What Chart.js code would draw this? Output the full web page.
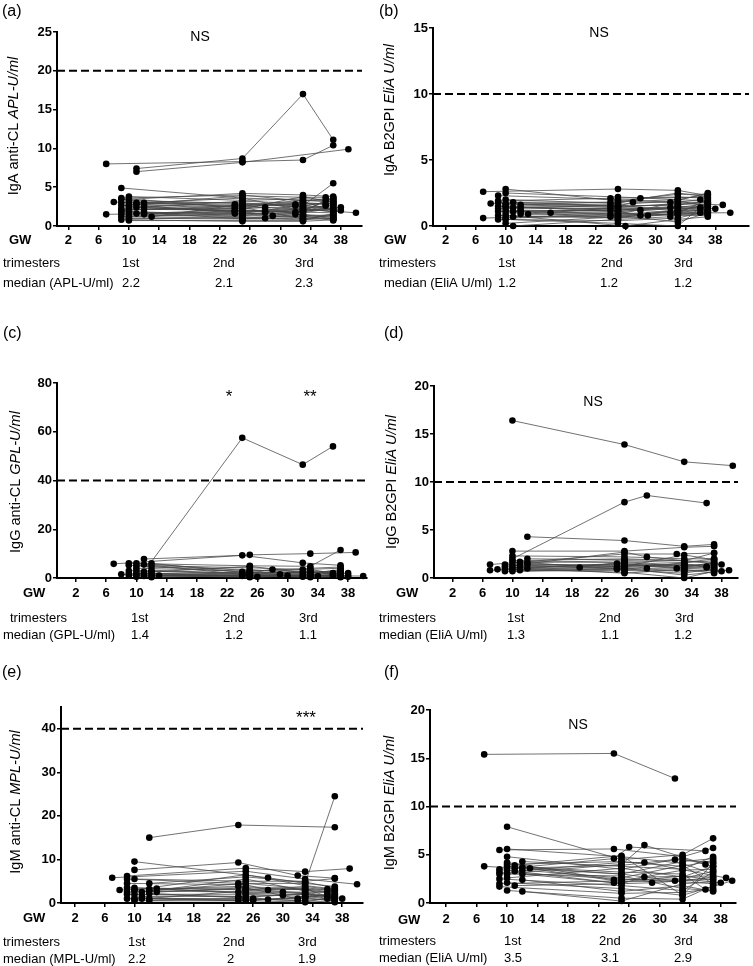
<!DOCTYPE html>
<html>
<head>
<meta charset="utf-8">
<script src="https://cdn.jsdelivr.net/npm/chart.js@4/dist/chart.umd.min.js"></script>
<style>
  body { margin: 0; background: #fff; }
  #page { position: relative; width: 753px; height: 966px; overflow: hidden; }
  #page canvas { position: absolute; }
</style>
</head>
<body>
<div id="page">
  <canvas id="panelA" width="376" height="320" style="left:0;top:0"></canvas>
  <canvas id="panelB" width="377" height="320" style="left:376px;top:0"></canvas>
  <canvas id="panelC" width="376" height="326" style="left:0;top:320px"></canvas>
  <canvas id="panelD" width="377" height="326" style="left:376px;top:320px"></canvas>
  <canvas id="panelE" width="376" height="326" style="left:0;top:640px"></canvas>
  <canvas id="panelF" width="377" height="326" style="left:376px;top:640px"></canvas>
</div>
<script>
// gestational weeks on the x axis, and the trimester columns
var gwTicks = [2, 6, 10, 14, 18, 22, 26, 30, 34, 38];
var trimesters = ["1st", "2nd", "3rd"];

// each track is one patient: [week, value, week, value, ...]

// (a) IgA anti-CL, APL-U/ml
var igaClTracks = [
  [7, 8.0, 25, 8.3, 33, 8.5, 37, 10.4],
  [11, 7.4, 25, 8.7, 33, 17.0, 37, 11.1],
  [11, 7.0, 25, 8.2, 39, 9.9],
  [9, 4.9, 25, 3.6, 37, 3.2],
  [7, 1.5, 24, 1.8, 33, 2.2, 40, 1.7],
  [8, 3.1, 25, 2.5, 33, 3.0, 37, 2.8],
  [9, 3.4, 25, 4.2, 33, 4.0, 37, 3.8],
  [9, 3.0, 24, 2.8, 33, 2.6, 37, 5.5],
  [9, 2.6, 25, 3.9, 33, 3.7, 36, 3.7],
  [9, 2.2, 25, 2.0, 33, 1.9, 37, 2.2],
  [9, 1.8, 24, 1.6, 32, 1.5, 37, 1.3],
  [9, 1.2, 25, 1.0, 33, 0.8, 37, 1.0],
  [9, 0.8, 25, 0.6, 33, 0.6, 37, 0.8],
  [10, 3.8, 25, 3.3, 33, 3.5, 37, 3.4],
  [10, 3.5, 24, 2.4, 32, 2.8, 36, 2.8],
  [10, 3.1, 25, 3.0, 33, 2.4, 37, 2.6],
  [10, 2.8, 25, 2.2, 33, 3.8, 37, 3.0],
  [10, 2.5, 25, 1.8, 33, 2.0, 38, 2.4],
  [10, 2.1, 24, 2.2, 28, 2.4, 37, 1.9],
  [10, 1.7, 25, 1.4, 33, 1.2, 37, 1.5],
  [10, 1.4, 25, 1.2, 28, 1.0, 37, 1.2],
  [10, 1.0, 25, 0.9, 33, 1.5, 37, 0.9],
  [10, 0.7, 25, 0.7, 33, 0.7, 37, 1.6],
  [11, 3.0, 25, 2.6, 33, 3.1, 37, 2.0],
  [11, 2.4, 24, 1.9, 29, 1.3, 37, 2.4],
  [12, 3.0, 25, 3.6, 33, 2.0, 37, 3.6],
  [12, 2.6, 25, 1.6, 32, 2.6, 38, 2.0],
  [12, 1.5, 25, 1.3, 28, 1.7, 36, 2.6],
  [13, 1.2, 25, 2.8, 33, 1.4, 37, 1.1],
  [10, 2.3, 25, 3.2, 33, 2.9, 37, 2.9],
  [9, 2.0, 24, 2.6, 33, 3.3, 37, 3.1],
  [10, 1.9, 25, 0.9, 33, 1.0, 37, 0.9],
  [11, 1.6, 25, 2.1, 28, 1.9, 37, 1.7],
  [12, 1.8, 25, 1.5, 33, 1.7, 37, 2.3],
  [9, 3.6, 25, 4.0, 33, 3.2, 37, 3.6],
  [10, 3.3, 25, 2.9, 33, 2.7, 37, 2.1],
  [10, 2.6, 24, 2.0, 32, 1.8, 37, 2.7],
  [9, 1.5, 25, 1.9, 33, 2.3, 37, 1.8],
  [10, 1.2, 25, 1.6, 33, 1.8, 36, 3.3],
  [11, 2.8, 25, 2.4, 33, 0.9, 37, 1.4],
  [10, 0.9, 25, 1.1, 33, 1.3, 37, 0.7],
  [12, 2.2, 25, 2.3, 33, 2.5, 37, 3.3]
];
var igaClMedians = ["2.2", "2.1", "2.3"];
var igaClCutoff = 20;
var igaClYTicks = [0, 5, 10, 15, 20, 25];

// (b) IgA B2GPI, EliA U/ml
var igaB2Tracks = [
  [7, 2.6, 25, 2.8, 33, 2.7, 37, 2.3],
  [7, 0.6, 24, 0.9, 33, 1.1, 37, 1.2],
  [8, 1.7, 25, 1.5, 33, 1.6, 37, 1.9],
  [9, 2.3, 25, 2.0, 32, 1.8, 37, 2.5],
  [9, 1.9, 24, 2.1, 33, 2.2, 37, 2.1],
  [9, 1.5, 25, 1.1, 33, 1.4, 37, 1.7],
  [9, 1.1, 24, 1.2, 28, 0.8, 37, 1.0],
  [9, 0.8, 25, 0.6, 33, 0.9, 37, 0.9],
  [9, 0.5, 25, 0.4, 33, 0.6, 36, 1.0],
  [10, 2.8, 25, 1.9, 33, 2.4, 37, 2.4],
  [10, 2.0, 25, 1.7, 28, 2.1, 37, 2.2],
  [10, 1.7, 24, 1.6, 33, 1.9, 37, 1.5],
  [10, 1.4, 25, 1.3, 33, 1.0, 37, 1.3],
  [10, 1.2, 25, 0.9, 29, 0.8, 37, 1.1],
  [10, 1.0, 25, 1.0, 33, 0.8, 37, 0.8],
  [10, 0.8, 26, 0.0, 33, 0.5, 37, 0.7],
  [10, 0.5, 25, 0.2, 33, 0.0, 36, 1.4],
  [10, 0.2, 25, 0.7, 33, 1.2, 37, 1.6],
  [11, 1.8, 25, 1.5, 27, 1.8, 37, 1.8],
  [11, 1.1, 25, 1.2, 33, 1.5, 38, 1.3],
  [11, 0.0, 25, 0.5, 32, 0.7, 37, 2.0],
  [12, 1.6, 24, 1.4, 33, 1.7, 39, 1.6],
  [12, 1.2, 25, 1.1, 28, 1.2, 37, 1.4],
  [12, 0.9, 25, 0.8, 32, 1.0, 40, 1.0],
  [13, 0.9, 25, 1.4, 33, 1.3, 37, 1.2],
  [16, 1.0, 25, 0.9, 33, 1.8, 36, 2.0],
  [10, 1.6, 24, 1.8, 33, 2.0, 37, 1.9],
  [9, 1.3, 25, 1.6, 33, 1.1, 37, 1.7],
  [11, 1.4, 25, 1.3, 32, 1.4, 36, 1.3],
  [12, 1.4, 25, 1.2, 33, 1.4, 37, 1.5],
  [10, 2.5, 25, 2.2, 33, 2.0, 37, 2.4],
  [10, 0.6, 25, 0.8, 33, 0.3, 37, 1.0],
  [9, 1.8, 25, 1.8, 33, 2.5, 37, 2.2],
  [11, 0.7, 24, 0.7, 33, 0.9, 37, 0.9],
  [10, 1.5, 25, 1.5, 33, 1.6, 37, 1.8],
  [12, 1.1, 25, 0.6, 33, 1.2, 37, 1.1]
];
var igaB2Medians = ["1.2", "1.2", "1.2"];
var igaB2Cutoff = 10;
var igaB2YTicks = [0, 5, 10, 15];

// (c) IgG anti-CL, GPL-U/ml
var iggClTracks = [
  [11, 2.5, 24, 57.5, 32, 46.5, 36, 54.0],
  [7, 5.8, 25, 9.5, 33, 10.0, 39, 10.5],
  [11, 7.8, 24, 9.3, 32, 6.2, 37, 5.2],
  [9, 6.0, 25, 5.0, 33, 4.8, 37, 11.5],
  [9, 5.2, 25, 4.2, 32, 3.5, 37, 4.0],
  [10, 6.0, 25, 3.0, 33, 3.5, 36, 2.0],
  [10, 5.0, 24, 2.5, 33, 2.0, 37, 2.5],
  [12, 6.0, 25, 2.0, 32, 2.2, 37, 3.0],
  [12, 4.5, 25, 3.5, 33, 1.5, 38, 2.0],
  [8, 1.5, 25, 1.0, 33, 1.2, 37, 1.0],
  [9, 1.8, 24, 1.5, 28, 3.5, 37, 1.5],
  [9, 1.0, 25, 0.8, 33, 0.8, 37, 0.5],
  [10, 3.0, 25, 1.5, 29, 1.5, 36, 1.2],
  [10, 2.0, 25, 0.5, 33, 2.8, 37, 0.8],
  [10, 1.2, 24, 0.8, 32, 1.0, 38, 1.0],
  [10, 0.5, 25, 1.2, 33, 0.5, 37, 1.8],
  [11, 2.0, 26, 0.5, 33, 1.5, 37, 0.3],
  [11, 0.8, 25, 2.5, 30, 1.0, 40, 0.8],
  [12, 3.2, 25, 1.8, 33, 3.0, 37, 2.0],
  [12, 2.0, 24, 1.2, 32, 0.5, 36, 1.0],
  [12, 1.0, 25, 0.3, 33, 1.0, 37, 1.2],
  [12, 0.3, 25, 1.0, 34, 0.8, 38, 0.5],
  [13, 1.0, 25, 0.8, 33, 0.3, 37, 0.5],
  [9, 3.0, 24, 2.0, 33, 2.2, 37, 2.8],
  [10, 4.0, 25, 2.8, 33, 4.0, 37, 4.5],
  [11, 5.5, 25, 1.2, 33, 2.5, 37, 1.5],
  [12, 2.5, 25, 4.8, 33, 1.8, 37, 3.5]
];
var iggClMedians = ["1.4", "1.2", "1.1"];
var iggClCutoff = 40;
var iggClYTicks = [0, 20, 40, 60, 80];

// (d) IgG B2GPI, EliA U/ml
var iggB2Tracks = [
  [10, 16.4, 25, 13.9, 33, 12.1, 39.5, 11.7],
  [10, 2.0, 25, 7.9, 28, 8.6, 36, 7.8],
  [12, 4.3, 25, 3.9, 33, 3.3, 37, 3.5],
  [10, 2.8, 25, 2.8, 33, 3.2, 37, 3.3],
  [7, 1.4, 25, 2.5, 32, 2.5, 37, 2.6],
  [7, 0.8, 25, 1.2, 33, 1.3, 37, 1.4],
  [8, 0.9, 24, 1.0, 33, 0.8, 37, 0.8],
  [9, 1.2, 25, 2.7, 28, 2.2, 38, 1.4],
  [9, 1.0, 24, 1.5, 33, 1.1, 36, 1.2],
  [9, 0.7, 25, 0.8, 33, 0.5, 37, 1.0],
  [10, 2.3, 25, 2.2, 33, 2.0, 37, 2.0],
  [10, 1.6, 25, 1.8, 33, 1.6, 37, 1.8],
  [10, 1.3, 25, 1.4, 32, 1.0, 37, 1.6],
  [10, 1.1, 24, 1.2, 33, 1.4, 37, 1.2],
  [10, 0.9, 25, 0.6, 33, 0.0, 37, 0.7],
  [10, 0.7, 25, 1.0, 33, 0.3, 38, 0.7],
  [11, 1.7, 25, 1.6, 33, 1.2, 37, 1.3],
  [11, 1.2, 25, 1.1, 28, 1.0, 37, 1.1],
  [11, 0.8, 24, 0.9, 33, 0.7, 39, 0.8],
  [12, 2.0, 25, 1.9, 33, 1.8, 37, 2.6],
  [12, 1.4, 25, 1.3, 33, 1.5, 36, 1.1],
  [12, 1.0, 25, 0.5, 33, 0.9, 37, 0.5],
  [9, 1.4, 19, 1.1, 25, 1.7, 33, 1.3, 37, 1.5],
  [11, 1.5, 25, 1.2, 33, 2.4, 37, 1.9],
  [10, 1.8, 25, 2.0, 33, 1.8, 37, 1.6],
  [11, 1.0, 25, 1.5, 33, 1.0, 37, 0.9],
  [12, 1.6, 25, 0.9, 33, 1.6, 37, 2.0]
];
var iggB2Medians = ["1.3", "1.1", "1.2"];
var iggB2Cutoff = 10;
var iggB2YTicks = [0, 5, 10, 15, 20];

// (e) IgM anti-CL, MPL-U/ml
var igmClTracks = [
  [12, 15.0, 24, 17.9, 37, 17.4],
  [10, 9.5, 28, 5.8, 33, 4.5, 37, 24.5],
  [10, 7.6, 24, 9.3, 32, 6.3, 37, 5.7],
  [9, 6.2, 25, 8.0, 33, 7.2, 39, 7.9],
  [7, 5.8, 25, 7.3, 33, 5.5, 40, 4.3],
  [9, 5.5, 24, 4.5, 33, 4.5, 37, 3.8],
  [10, 5.5, 25, 5.0, 33, 5.0, 37, 5.6],
  [8, 3.0, 24, 3.8, 33, 3.2, 37, 2.5],
  [9, 4.5, 25, 4.2, 28, 3.0, 36, 3.2],
  [9, 3.5, 24, 2.5, 33, 2.5, 38, 1.0],
  [9, 2.0, 25, 2.0, 33, 1.5, 37, 2.0],
  [9, 1.0, 25, 1.0, 32, 0.5, 37, 1.0],
  [10, 3.5, 25, 3.0, 33, 3.8, 37, 3.0],
  [10, 2.8, 25, 2.5, 30, 2.5, 37, 1.5],
  [10, 2.0, 24, 1.5, 33, 2.0, 36, 1.0],
  [10, 1.2, 25, 0.8, 33, 1.0, 37, 0.5],
  [10, 0.5, 26, 1.0, 33, 0.5, 37, 0.2],
  [11, 2.5, 25, 5.5, 33, 2.8, 37, 2.2],
  [11, 1.5, 25, 1.5, 28, 0.8, 37, 1.8],
  [12, 4.5, 25, 6.0, 33, 4.8, 37, 3.5],
  [12, 3.2, 25, 3.5, 33, 3.0, 36, 2.5],
  [12, 2.2, 24, 1.2, 30, 1.8, 37, 2.8],
  [12, 1.0, 25, 0.5, 33, 1.5, 37, 0.8],
  [13, 3.3, 25, 2.2, 33, 2.0, 37, 1.2],
  [13, 2.5, 25, 3.5, 32, 1.0, 36, 2.0],
  [12, 0.5, 26, 0.5, 33, 0.2, 37, 1.5],
  [10, 3.0, 25, 6.5, 33, 4.0, 37, 3.2],
  [9, 2.5, 25, 3.2, 33, 2.3, 37, 1.0],
  [10, 0.8, 25, 2.8, 33, 3.5, 37, 2.8],
  [11, 1.0, 24, 0.5, 33, 1.2, 37, 0.5],
  [12, 2.8, 25, 4.5, 33, 3.3, 36, 1.5]
];
var igmClMedians = ["2.2", "2", "1.9"];
var igmClCutoff = 40;
var igmClYTicks = [0, 10, 20, 30, 40];

// (f) IgM B2GPI, EliA U/ml
var igmB2Tracks = [
  [7, 15.4, 24, 15.5, 32, 12.9],
  [10, 7.9, 25, 4.5, 33, 5.0, 37, 6.7],
  [7, 3.8, 25, 3.0, 33, 4.3, 37, 4.6],
  [9, 5.5, 24, 5.6, 33, 4.8, 37, 5.7],
  [9, 3.5, 24, 4.6, 26, 5.8, 36, 5.4],
  [9, 3.2, 25, 2.5, 33, 2.2, 37, 2.0],
  [9, 3.0, 25, 4.0, 28, 6.0, 36, 4.0],
  [9, 2.0, 25, 2.3, 33, 3.4, 37, 3.5],
  [9, 1.7, 25, 1.0, 33, 1.1, 37, 1.5],
  [10, 5.6, 25, 4.8, 33, 4.1, 37, 3.0],
  [10, 4.8, 25, 3.5, 32, 4.5, 37, 4.2],
  [10, 4.2, 24, 2.4, 33, 2.5, 38, 2.1],
  [10, 3.8, 25, 3.2, 33, 3.0, 36, 1.4],
  [10, 3.4, 25, 2.0, 29, 2.1, 37, 2.5],
  [10, 3.0, 25, 2.8, 33, 1.5, 37, 1.3],
  [10, 2.1, 25, 1.5, 33, 0.8, 39.5, 2.3],
  [10, 1.3, 25, 0.5, 33, 0.4, 37, 1.8],
  [11, 3.3, 25, 4.2, 28, 4.2, 38.7, 2.6],
  [11, 1.8, 25, 2.0, 28, 2.7, 37, 2.8],
  [12, 4.3, 25, 3.8, 33, 3.5, 37, 4.8],
  [12, 3.7, 25, 3.0, 32, 2.3, 37, 3.3],
  [12, 3.0, 24, 2.1, 33, 2.8, 37, 2.4],
  [12, 2.4, 25, 1.2, 33, 1.8, 37, 1.2],
  [12, 1.2, 25, 0.2, 33, 2.0, 37, 2.2],
  [13, 3.6, 25, 2.2, 33, 2.3, 37, 2.7],
  [11, 3.6, 25, 3.9, 33, 4.6, 37, 3.8],
  [10, 2.6, 25, 3.6, 33, 2.7, 37, 3.8],
  [10, 4.0, 25, 4.3, 33, 3.8, 37, 4.4],
  [9, 2.5, 25, 1.8, 33, 1.3, 37, 3.2],
  [12, 3.4, 25, 2.6, 33, 3.9, 37, 2.0],
  [11, 3.9, 25, 4.9, 33, 0.8, 37, 4.1]
];
var igmB2Medians = ["3.5", "3.1", "2.9"];
var igmB2Cutoff = 10;
var igmB2YTicks = [0, 5, 10, 15, 20];

var FONT = "'Liberation Sans', Arial, sans-serif";

function toPoints(track) {
  var pts = [];
  for (var i = 0; i < track.length; i += 2) {
    pts.push({ x: track[i], y: track[i + 1] });
  }
  return pts;
}

// text round each panel: tag, y title with italic unit, notes, trimester rows
var panelText = {
  id: "panelText",
  afterDraw: function (chart, args, o) {
    var ctx = chart.ctx;
    ctx.save();
    ctx.fillStyle = "#000";
    ctx.textBaseline = "middle";

    ctx.textAlign = "left";
    ctx.font = "16px " + FONT;
    ctx.fillText(o.tag, o.tagX, o.tagY);

    ctx.textAlign = "center";
    o.notes.forEach(function (n) {
      ctx.font = n.size + "px " + FONT;
      ctx.fillText(n.text, n.x, n.y);
    });

    ctx.textAlign = "left";
    ctx.font = "bold 13px " + FONT;
    ctx.fillText("GW", o.gwX, o.gwY);

    ctx.font = "13px " + FONT;
    ctx.fillText("trimesters", o.trimX, o.trimY);
    ctx.fillText(o.medianLabel, o.medX, o.medY);
    trimesters.forEach(function (t, i) {
      ctx.fillText(t, o.trimCols[i], o.trimY);
    });
    o.medians.forEach(function (m, i) {
      ctx.fillText(m, o.medCols[i], o.medY);
    });

    ctx.translate(o.titleX, o.titleY);
    ctx.rotate(-Math.PI / 2);
    ctx.font = "14.5px " + FONT;
    var w1 = ctx.measureText(o.title[0]).width;
    ctx.font = "italic 14.5px " + FONT;
    var w2 = ctx.measureText(o.title[1]).width;
    var x0 = -(w1 + w2) / 2;
    ctx.font = "14.5px " + FONT;
    ctx.fillText(o.title[0], x0, 0);
    ctx.font = "italic 14.5px " + FONT;
    ctx.fillText(o.title[1], x0 + w1, 0);
    ctx.restore();
  }
};

function makePanel(canvasId, tracks, cutoff, yTicks, box, text) {
  var canvas = document.getElementById(canvasId);
  var datasets = [];
  var dots = [];
  tracks.forEach(function (t) {
    var pts = toPoints(t);
    dots = dots.concat(pts);
    datasets.push({
      data: pts,
      showLine: true,
      borderColor: "rgba(70,70,70,0.85)",
      borderWidth: 0.9,
      pointRadius: 0,
      order: 2,
      clip: false
    });
  });
  datasets.push({
    data: dots,
    showLine: false,
    pointRadius: 3.3,
    pointBackgroundColor: "#000",
    pointBorderWidth: 0,
    order: 0,
    clip: false
  });
  datasets.push({
    data: [{ x: box.xMin, y: cutoff }, { x: box.xMax, y: cutoff }],
    showLine: true,
    borderColor: "#000",
    borderWidth: 2,
    borderDash: [8, 4],
    pointRadius: 0,
    order: 1,
    clip: false
  });

  return new Chart(canvas, {
    type: "scatter",
    data: { datasets: datasets },
    options: {
      responsive: false,
      animation: false,
      events: [],
      layout: {
        padding: {
          left: 0,
          top: box.top,
          right: canvas.width - box.right,
          bottom: canvas.height - box.bottom - 30
        }
      },
      plugins: {
        legend: { display: false },
        tooltip: { enabled: false },
        panelText: text
      },
      scales: {
        x: {
          type: "linear",
          min: box.xMin,
          max: box.xMax,
          afterBuildTicks: function (s) {
            s.ticks = gwTicks.map(function (v) { return { value: v }; });
          },
          afterFit: function (s) { s.height = 30; },
          ticks: {
            color: "#000",
            font: { family: FONT, size: 13, weight: "bold" },
            padding: box.xPad,
            maxRotation: 0,
            autoSkip: false
          },
          grid: { drawOnChartArea: false, drawTicks: true, tickLength: 4, color: "#000", lineWidth: 1.5 },
          border: { display: true, color: "#000", width: 2 }
        },
        y: {
          type: "linear",
          min: 0,
          max: box.yMax,
          afterBuildTicks: function (s) {
            s.ticks = yTicks.map(function (v) { return { value: v }; });
          },
          afterFit: function (s) { s.width = box.left; },
          ticks: {
            color: "#000",
            font: { family: FONT, size: 13, weight: "bold" },
            padding: 1
          },
          grid: { drawOnChartArea: false, drawTicks: true, tickLength: 4, color: "#000", lineWidth: 1.5 },
          border: { display: true, color: "#000", width: 2 }
        }
      }
    },
    plugins: [panelText]
  });
}

var chartA = makePanel("panelA", igaClTracks, igaClCutoff, igaClYTicks,
  { left: 57, right: 362, top: 32, bottom: 226, xMin: 0.5, xMax: 40.8, yMax: 25, xPad: 3 },
  {
    tag: "(a)", tagX: 2, tagY: 12,
    title: ["IgA anti-CL ", "APL-U/ml"], titleX: 14, titleY: 126,
    notes: [{ text: "NS", x: 200, y: 37, size: 14 }],
    gwX: 9, gwY: 240,
    trimX: 3, trimY: 263, medX: 3, medY: 283,
    medianLabel: "median (APL-U/ml)", medians: igaClMedians,
    trimCols: [122, 213, 295], medCols: [122, 215, 295]
  });

var chartB = makePanel("panelB", igaB2Tracks, igaB2Cutoff, igaB2YTicks,
  { left: 57, right: 377, top: 28, bottom: 226, xMin: 0.3, xMax: 42.5, yMax: 15, xPad: 3 },
  {
    tag: "(b)", tagX: 3, tagY: 12,
    title: ["IgA B2GPI ", "EliA U/ml"], titleX: 14, titleY: 110,
    notes: [{ text: "NS", x: 223, y: 33, size: 14 }],
    gwX: 8, gwY: 240,
    trimX: 3, trimY: 263, medX: 8, medY: 283,
    medianLabel: "median (EliA U/ml)", medians: igaB2Medians,
    trimCols: [122, 225, 298], medCols: [122, 224, 298]
  });

var chartC = makePanel("panelC", iggClTracks, iggClCutoff, iggClYTicks,
  { left: 57, right: 367, top: 63, bottom: 258, xMin: -0.5, xMax: 40.5, yMax: 80, xPad: 4 },
  {
    tag: "(c)", tagX: 3, tagY: 14,
    title: ["IgG anti-CL ", "GPL-U/ml"], titleX: 16, titleY: 162,
    notes: [{ text: "*", x: 229, y: 77, size: 17 }, { text: "**", x: 310, y: 77, size: 17 }],
    gwX: 23, gwY: 273,
    trimX: 10, trimY: 298, medX: 3, medY: 315,
    medianLabel: "median (GPL-U/ml)", medians: iggClMedians,
    trimCols: [131, 223, 299], medCols: [131, 225, 299]
  });

var chartD = makePanel("panelD", iggB2Tracks, iggB2Cutoff, iggB2YTicks,
  { left: 58, right: 362, top: 66, bottom: 258, xMin: -0.5, xMax: 40.2, yMax: 20, xPad: 4 },
  {
    tag: "(d)", tagX: 8, tagY: 14,
    title: ["IgG B2GPI ", "EliA U/ml"], titleX: 16, titleY: 162,
    notes: [{ text: "NS", x: 217, y: 82, size: 14 }],
    gwX: 20, gwY: 273,
    trimX: 3, trimY: 298, medX: 3, medY: 315,
    medianLabel: "median (EliA U/ml)", medians: iggB2Medians,
    trimCols: [131, 223, 299], medCols: [131, 225, 298]
  });

var chartE = makePanel("panelE", igmClTracks, igmClCutoff, igmClYTicks,
  { left: 61, right: 363, top: 67, bottom: 263, xMin: 0.1, xMax: 40.8, yMax: 45, xPad: 4 },
  {
    tag: "(e)", tagX: 2, tagY: 33,
    title: ["IgM anti-CL ", "MPL-U/ml"], titleX: 16, titleY: 162,
    notes: [{ text: "***", x: 306, y: 78, size: 17 }],
    gwX: 23, gwY: 278,
    trimX: 3, trimY: 302, medX: 3, medY: 319,
    medianLabel: "median (MPL-U/ml)", medians: igmClMedians,
    trimCols: [128, 223, 298], medCols: [128, 227, 298]
  });

var chartF = makePanel("panelF", igmB2Tracks, igmB2Cutoff, igmB2YTicks,
  { left: 54, right: 360, top: 70, bottom: 263, xMin: -0.1, xMax: 40, yMax: 20, xPad: 5 },
  {
    tag: "(f)", tagX: 8, tagY: 33,
    title: ["IgM B2GPI ", "EliA U/ml"], titleX: 14, titleY: 163,
    notes: [{ text: "NS", x: 202, y: 85, size: 14 }],
    gwX: 22, gwY: 280,
    trimX: 3, trimY: 301, medX: 3, medY: 318,
    medianLabel: "median (EliA U/ml)", medians: igmB2Medians,
    trimCols: [128, 223, 298], medCols: [128, 225, 298]
  });
</script>
</body>
</html>
